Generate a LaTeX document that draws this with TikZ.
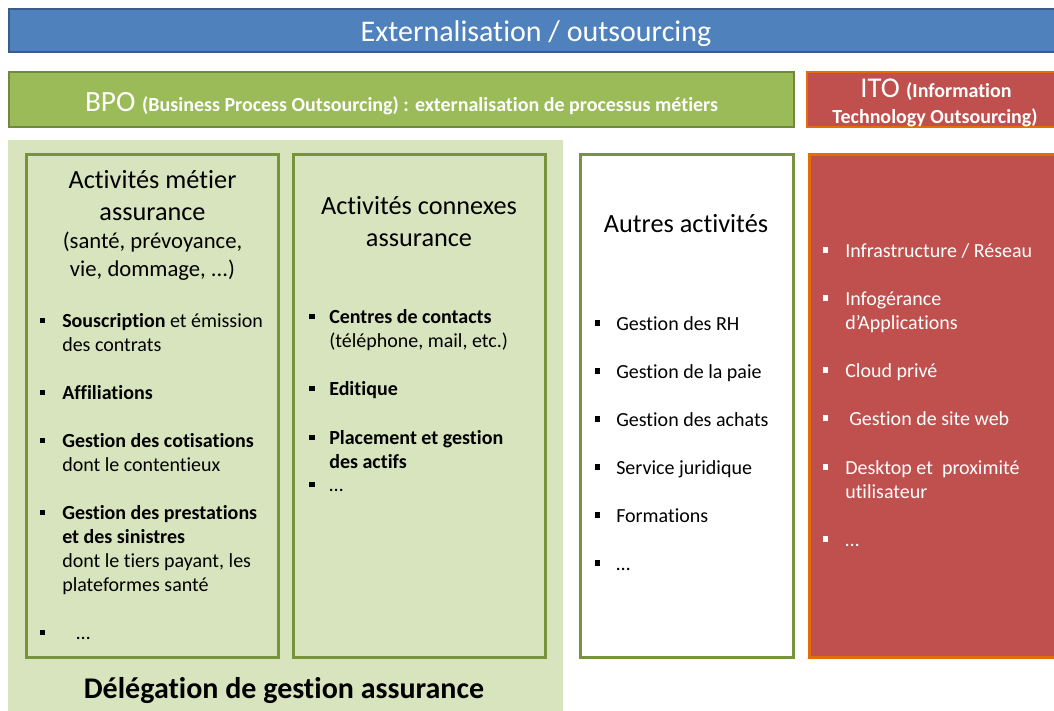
\documentclass[tikz,border=0pt]{standalone}
\usepackage{fontspec}
\setmainfont{Carlito}[Ligatures={NoCommon}]
\definecolor{bluefill}{HTML}{4F81BD}
\definecolor{blueline}{HTML}{385D8A}
\definecolor{greenfill}{HTML}{9BBB59}
\definecolor{greenline}{HTML}{71893F}
\definecolor{boxline}{HTML}{77933C}
\definecolor{lightgreen}{HTML}{D7E4BD}
\definecolor{redfill}{HTML}{C0504D}
\definecolor{orangeline}{HTML}{E46C0A}
\tikzset{
  itm/.style={anchor=base west, inner sep=0pt, font=\fontsize{15}{18}\selectfont},
  witm/.style={itm, text=white},
  ttl/.style={anchor=base, inner sep=0pt, font=\fontsize{19.7}{24}\selectfont},
  sub/.style={anchor=base, inner sep=0pt, font=\fontsize{17}{20}\selectfont},
  bul/.style={fill=black, minimum size=3.9pt, inner sep=0pt, draw=none},
  wbul/.style={bul, fill=white},
  frame/.style={line width=2.25pt, draw=boxline},
}
\begin{document}
\begin{tikzpicture}[x=0.75pt,y=-0.75pt]
\clip (0,0) rectangle (1054,711);
\fill[white] (0,0) rectangle (1054,711);

% top bar
\draw[fill=bluefill, draw=blueline, line width=1.5pt] (9,9) rectangle (1064,52);
\node[anchor=base, inner sep=0pt, text=white, font=\fontsize{22.5}{27}\selectfont] (ext) at (536,41) {Externalisation / outsourcing};

% BPO bar
\draw[fill=greenfill, draw=greenline, line width=1.5pt] (9,72) rectangle (794,127);
\node[anchor=base, inner sep=0pt, text=white] (bpo) at (401.5,111)
  {\fontsize{22}{26}\selectfont BPO \fontsize{15}{18}\selectfont\bfseries (Business Process Outsourcing) : externalisation de processus métiers};

% ITO bar
\draw[fill=redfill, draw=orangeline, line width=1.5pt] (807,72) rectangle (1064,127);
\node[anchor=base, inner sep=0pt, text=white] (ito1) at (936,97)
  {\fontsize{21.5}{26}\selectfont ITO \fontsize{15}{18}\selectfont\bfseries (Information};
\node[anchor=base, inner sep=0pt, text=white, font=\fontsize{15}{18}\selectfont\bfseries] (ito2) at (935,123)
  {Technology Outsourcing)};

% light green background
\fill[lightgreen] (8,140) rectangle (563,720);

% boxes
\draw[frame, fill=lightgreen] (26.5,154.5) rectangle (278.5,657.5);
\draw[frame, fill=lightgreen] (293.5,154.5) rectangle (545.5,657.5);
\draw[frame, fill=white] (580.5,154.5) rectangle (793.5,657.5);
\draw[line width=2.25pt, draw=orangeline, fill=redfill] (809.5,154.5) rectangle (1064,657.5);

% box 1
\node[ttl] (t1a) at (152.5,188) {Activités métier};
\node[ttl] (t1b) at (152.5,220) {assurance};
\node[sub] (t1c) at (152.5,248) {(santé, prévoyance,};
\node[sub] (t1d) at (152.5,276) {vie, dommage, ...)};

\node[bul] (b1a) at (42.5,320.5) {};
\node[itm] (l1a) at (62,327) {\textbf{Souscription} et émission};
\node[itm] (l1b) at (62,351) {des contrats};
\node[bul] (b1b) at (42.5,392.5) {};
\node[itm] (l1c) at (62,399) {\textbf{Affiliations}};
\node[bul] (b1c) at (42.5,440.5) {};
\node[itm] (l1d) at (62,447) {\textbf{Gestion des cotisations}};
\node[itm] (l1e) at (62,471) {dont le contentieux};
\node[bul] (b1d) at (42.5,512.5) {};
\node[itm] (l1f) at (62,519) {\textbf{Gestion des prestations}};
\node[itm] (l1g) at (62,543) {\textbf{et des sinistres}};
\node[itm] (l1h) at (62,567) {dont le tiers payant, les};
\node[itm] (l1i) at (62,591) {plateformes santé};
\node[bul] (b1e) at (42.5,632.5) {};
\node[itm] (l1j) at (76,639) {…};

% box 2
\node[ttl] (t2a) at (419,214) {Activités connexes};
\node[ttl] (t2b) at (419,246) {assurance};
\node[bul] (b2a) at (312,316.5) {};
\node[itm] (l2a) at (329,323) {\textbf{Centres de contacts}};
\node[itm] (l2b) at (329,347) {(téléphone, mail, etc.)};
\node[bul] (b2b) at (312,388.5) {};
\node[itm] (l2c) at (329,395) {\textbf{Editique}};
\node[bul] (b2c) at (312,437.5) {};
\node[itm] (l2d) at (329,444) {\textbf{Placement et gestion}};
\node[itm] (l2e) at (329,468) {\textbf{des actifs}};
\node[bul] (b2d) at (312,484.5) {};
\node[itm] (l2f) at (329,491) {…};

% box 3
\node[ttl] (t3a) at (686,232) {Autres activités};
\node[bul] (b3a) at (597.5,323) {};
\node[itm] (l3a) at (616,330) {Gestion des RH};
\node[bul] (b3b) at (597.5,371) {};
\node[itm] (l3b) at (616,378) {Gestion de la paie};
\node[bul] (b3c) at (597.5,419) {};
\node[itm] (l3c) at (616,426) {Gestion des achats};
\node[bul] (b3d) at (597.5,467) {};
\node[itm] (l3d) at (616,474) {Service juridique};
\node[bul] (b3e) at (597.5,515) {};
\node[itm] (l3e) at (616,522) {Formations};
\node[bul] (b3f) at (597.5,563) {};
\node[itm] (l3f) at (616,570) {…};

% box 4
\node[wbul] (b4a) at (825.5,250) {};
\node[witm] (l4a) at (845,257) {Infrastructure / Réseau};
\node[wbul] (b4b) at (825.5,298) {};
\node[witm] (l4b) at (845,305) {Infogérance};
\node[witm] (l4c) at (845,329) {d’Applications};
\node[wbul] (b4c) at (825.5,370) {};
\node[witm] (l4d) at (845,377) {Cloud privé};
\node[wbul] (b4d) at (825.5,418) {};
\node[witm] (l4e) at (849,425) {Gestion de site web};
\node[wbul] (b4e) at (825.5,467) {};
\node[witm] (l4f) at (845,474) {Desktop et \ proximité};
\node[witm] (l4g) at (845,498) {utilisateur};
\node[wbul] (b4f) at (825.5,539) {};
\node[witm] (l4h) at (845,546) {…};

% bottom label
\node[anchor=base, inner sep=0pt, font=\fontsize{22.5}{27}\selectfont\bfseries] (deleg) at (284,698) {Délégation de gestion assurance};
\end{tikzpicture}
\end{document}
